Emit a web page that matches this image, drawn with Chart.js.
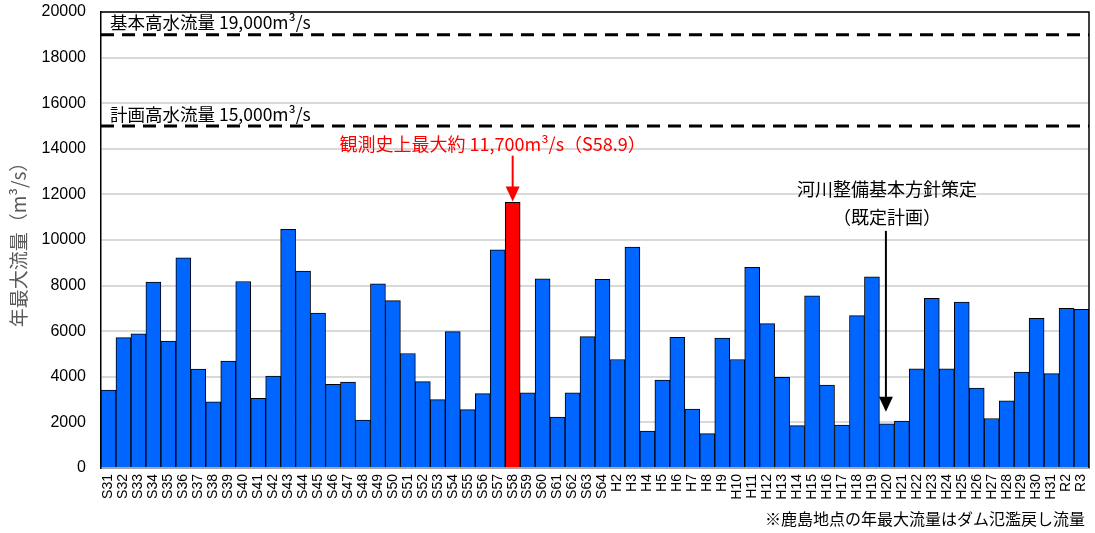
<!DOCTYPE html>
<html>
<head>
<meta charset="utf-8">
<script src="https://cdn.jsdelivr.net/npm/chart.js@4.4.1/dist/chart.umd.min.js"></script>
<style>
  html, body { margin: 0; padding: 0; background: #fff; }
  #wrap { width: 1095px; height: 533px; }
</style>
</head>
<body>
<div id="wrap"><canvas id="flowChart" width="1095" height="533"></canvas></div>
<script>
// years (昭和 S31..S64, 平成 H2..H31, 令和 R2..R3)
const years = [
  'S31','S32','S33','S34','S35','S36','S37','S38','S39','S40',
  'S41','S42','S43','S44','S45','S46','S47','S48','S49','S50',
  'S51','S52','S53','S54','S55','S56','S57','S58','S59','S60',
  'S61','S62','S63','S64','H2','H3','H4','H5','H6','H7',
  'H8','H9','H10','H11','H12','H13','H14','H15','H16','H17',
  'H18','H19','H20','H21','H22','H23','H24','H25','H26','H27',
  'H28','H29','H30','H31','R2','R3'
];

// annual maximum flow (m3/s)
const annualMaxFlow = [
  3420, 5720, 5880, 8150, 5570, 9220, 4340, 2900, 4690, 8180,
  3060, 4030, 10470, 8640, 6800, 3670, 3770, 2100, 8080, 7340,
  5020, 3790, 3000, 5980, 2560, 3260, 9570, 11650, 3300, 8300,
  2230, 3300, 5760, 8270, 4760, 9690, 1620, 3860, 5730, 2580,
  1510, 5700, 4760, 8800, 6330, 3980, 1860, 7550, 3640, 1880,
  6680, 8380, 1940, 2060, 4350, 7440, 4350, 7280, 3510, 2170,
  2950, 4210, 6560, 4140, 7000, 6960
];

const yTicks = [0, 2000, 4000, 6000, 8000, 10000, 12000, 14000, 16000, 18000, 20000];

// design levels
const levelValues = [19000, 15000];
const levelLabels = ['基本高水流量 19,000m³/s', '計画高水流量 15,000m³/s'];

const recordYear = 'S58';
const recordLabel = '観測史上最大約 11,700m³/s（S58.9）';
const policyYear = 'H20';
const policyLabel = ['河川整備基本方針策定', '（既定計画）'];
const footnote = '※鹿島地点の年最大流量はダム氾濫戻し流量';

const jpFont = '"Noto Sans CJK JP", "Noto Sans", sans-serif';
const numFont = '"Liberation Sans", Arial, sans-serif';

function drawArrow(ctx, x, y0, y1, color) {
  ctx.save();
  ctx.strokeStyle = color;
  ctx.fillStyle = color;
  ctx.lineWidth = 2;
  ctx.beginPath();
  ctx.moveTo(x, y0);
  ctx.lineTo(x, y1 - 14);
  ctx.stroke();
  ctx.beginPath();
  ctx.moveTo(x - 7, y1 - 15);
  ctx.lineTo(x + 7, y1 - 15);
  ctx.lineTo(x, y1);
  ctx.closePath();
  ctx.fill();
  ctx.restore();
}

const overlay = {
  id: 'overlay',
  afterDatasetsDraw(chart) {
    const { ctx, chartArea: a, scales: { x, y } } = chart;
    ctx.save();

    // frame on top / right
    ctx.strokeStyle = '#000';
    ctx.lineWidth = 1.5;
    ctx.beginPath();
    ctx.moveTo(a.left, a.top);
    ctx.lineTo(a.right, a.top);
    ctx.lineTo(a.right, a.bottom);
    ctx.stroke();

    // dashed level lines
    ctx.lineWidth = 3;
    ctx.setLineDash([13, 8]);
    levelValues.forEach((v, i) => {
      const py = y.getPixelForValue(v);
      ctx.beginPath();
      ctx.moveTo(a.left, py);
      ctx.lineTo(a.right, py);
      ctx.stroke();
      ctx.font = '17.5px ' + jpFont;
      ctx.fillStyle = '#000';
      ctx.textBaseline = 'middle';
      ctx.textAlign = 'left';
      ctx.fillText(levelLabels[i], a.left + 9, py - 12);
    });
    ctx.setLineDash([]);

    // record annotation
    const ri = years.indexOf(recordYear);
    const rx = x.getPixelForValue(ri);
    const ry = y.getPixelForValue(annualMaxFlow[ri]);
    ctx.fillStyle = '#ff0000';
    ctx.font = '18px ' + jpFont;
    ctx.textAlign = 'center';
    ctx.textBaseline = 'middle';
    ctx.fillText(recordLabel, rx - 20, y.getPixelForValue(14220));
    drawArrow(ctx, rx, y.getPixelForValue(13700), ry - 1, '#ff0000');

    // policy annotation
    const pi = years.indexOf(policyYear);
    const px = x.getPixelForValue(pi);
    const py = y.getPixelForValue(annualMaxFlow[pi]);
    ctx.fillStyle = '#000';
    ctx.font = '18px ' + jpFont;
    ctx.fillText(policyLabel[0], px, y.getPixelForValue(12250));
    ctx.fillText(policyLabel[1], px, y.getPixelForValue(11000));
    drawArrow(ctx, px - 1, y.getPixelForValue(10400), py - 12, '#000');

    // footnote
    ctx.font = '16px ' + jpFont;
    ctx.textAlign = 'right';
    ctx.fillText(footnote, 1085, 519);

    ctx.restore();
  }
};

new Chart(document.getElementById('flowChart'), {
  type: 'bar',
  data: {
    labels: years,
    datasets: [{
      data: annualMaxFlow,
      backgroundColor: years.map(l => l === recordYear ? '#ff0000' : '#0066ff'),
      borderColor: '#000',
      borderWidth: 1,
      categoryPercentage: 1,
      barPercentage: 1
    }]
  },
  options: {
    responsive: false,
    animation: false,
    layout: { padding: { top: 12, right: 6, left: 0, bottom: 0 } },
    plugins: {
      legend: { display: false },
      tooltip: { enabled: false }
    },
    scales: {
      x: {
        afterFit: s => {
          s.height = 65;
          s.paddingLeft = 0; s.paddingRight = 0;
          s.paddingTop = 0; s.paddingBottom = 0;
        },
        grid: { display: false, drawTicks: false },
        border: { color: '#a6a6a6', width: 2 },
        ticks: {
          autoSkip: false,
          minRotation: 90,
          maxRotation: 90,
          padding: 6,
          color: '#000',
          font: { family: numFont, size: 14 }
        }
      },
      y: {
        min: 0,
        max: 20000,
        afterFit: s => {
          s.width = 101;
          s.paddingTop = 0; s.paddingBottom = 0;
        },
        afterBuildTicks: s => { s.ticks = yTicks.map(v => ({ value: v })); },
        grid: { color: '#d9d9d9', lineWidth: 2, drawTicks: false },
        border: { color: '#000', width: 1.5 },
        ticks: {
          padding: 15,
          color: '#000',
          font: { family: numFont, size: 16 },
          callback: v => String(v)
        },
        title: {
          display: true,
          text: '年最大流量（m³/s）',
          color: '#595959',
          padding: { top: 7, bottom: 0 },
          font: { family: jpFont, size: 19 }
        }
      }
    }
  },
  plugins: [overlay]
});
</script>
</body>
</html>
